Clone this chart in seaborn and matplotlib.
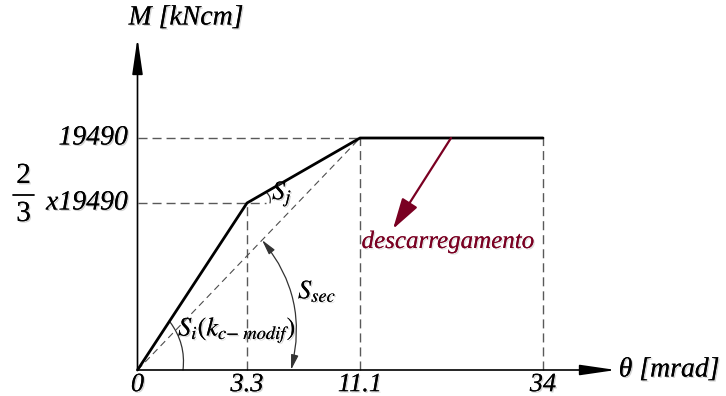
import numpy as np
import matplotlib
matplotlib.use("Agg")
import matplotlib.pyplot as plt
import matplotlib.patheffects as pe
from matplotlib.patches import FancyArrowPatch
import seaborn as sns
import pandas as pd

# --- moment-rotation data -------------------------------------------------
theta_ticks = [0, 3.3, 11.1, 34]            # rotation [mrad]
theta_labels = ["0", "3.3", "11.1", "34"]
m_max = 19490                                # resistant moment [kNcm]
m_el = 2 / 3 * m_max                         # end of elastic branch
curve_theta = [0, 3.3, 11.1, 34]
curve_m = [0, m_el, m_max, m_max]

# schematic (non-proportional) axis spacing, in pixels
X_ANCHOR_DATA = [0, 3.3, 11.1, 34]
X_ANCHOR_PX = [137.5, 247, 360, 543]
Y_ANCHOR_DATA = [0, m_el, m_max]
Y_ANCHOR_PX = [26, 193, 258]          # measured from the bottom edge

W, H = 726, 396
SERIF = ["Liberation Serif", "DejaVu Serif"]


def piecewise(xp, fp):
    xp = np.asarray(xp, float)
    fp = np.asarray(fp, float)

    def f(v):
        v = np.asarray(v, float)
        out = np.interp(v, xp, fp)
        s0 = (fp[1] - fp[0]) / (xp[1] - xp[0])
        s1 = (fp[-1] - fp[-2]) / (xp[-1] - xp[-2])
        out = np.where(v < xp[0], fp[0] + (v - xp[0]) * s0, out)
        out = np.where(v > xp[-1], fp[-1] + (v - xp[-1]) * s1, out)
        return out
    return f


x_fwd = piecewise(X_ANCHOR_DATA, X_ANCHOR_PX)
x_inv = piecewise(X_ANCHOR_PX, X_ANCHOR_DATA)
y_fwd = piecewise(Y_ANCHOR_DATA, Y_ANCHOR_PX)
y_inv = piecewise(Y_ANCHOR_PX, Y_ANCHOR_DATA)


def P(px, py):
    """pixel position (from top-left) -> data coordinates"""
    return float(x_inv(px)), float(y_inv(H - py))


sns.set_theme(style="white")
plt.rcParams["font.family"] = SERIF

fig = plt.figure(figsize=(W / 100, H / 100), dpi=100)
ax = fig.add_axes([0, 0, 1, 1])
ax.set_xscale("function", functions=(x_fwd, x_inv))
ax.set_yscale("function", functions=(y_fwd, y_inv))
ax.set_xlim(float(x_inv(0)), float(x_inv(W)))
ax.set_ylim(float(y_inv(0)), float(y_inv(H)))
ax.axis("off")

shadow = [pe.withSimplePatchShadow(offset=(1, -1), shadow_rgbFace="0.5", alpha=0.35),
          pe.Normal()]
txt = dict(family=SERIF, style="italic", color="black", path_effects=shadow)
mtxt = dict(color="black", math_fontfamily="stix", path_effects=shadow)

# --- dashed guide lines ----------------------------------------------------
guide = dict(color="0.35", lw=1.0, dashes=(6.5, 3.6), zorder=1)
ax.plot([0, theta_ticks[2]], [m_max, m_max], **guide)
ax.plot([0, P(266, 0)[0]], [m_el, m_el], **guide)
for t, m in [(3.3, m_el), (11.1, m_max), (34, m_max)]:
    ax.plot([t, t], [0, m], **guide)

# secant stiffness
sec = pd.DataFrame({"theta": [0, 11.1], "M": [0, m_max]})
sns.lineplot(data=sec, x="theta", y="M", ax=ax, color="0.3", lw=0.8,
             estimator=None, sort=False, zorder=2)
ax.lines[-1].set_dashes((6, 4))

# --- main curve -------------------------------------------------------------
curve = pd.DataFrame({"theta": curve_theta, "M": curve_m})
sns.lineplot(data=curve, x="theta", y="M", ax=ax, color="black", lw=2.0,
             estimator=None, sort=False, zorder=3)

# --- axes with arrows --------------------------------------------------------
ax_arrow = dict(arrowstyle="-|>,head_length=2.2,head_width=0.32", color="black",
                lw=1.2, mutation_scale=10, shrinkA=0, shrinkB=0, zorder=4)
ax.add_patch(FancyArrowPatch((0, 0), P(137.5, 38), **ax_arrow))
ax.add_patch(FancyArrowPatch((0, 0), P(616, 370), **ax_arrow))

# tick labels
for t, lab in zip(theta_ticks, theta_labels):
    ax.annotate(lab, xy=(t, 0), xytext=(0, -3), textcoords="offset points",
                ha="center", va="top", fontsize=19, **txt)

ax.annotate("19490", xy=(0, m_max), xytext=(-7, 0), textcoords="offset points",
            ha="right", va="center", fontsize=20, **txt)
ax.annotate("x19490", xy=(0, m_el), xytext=(-7, 0), textcoords="offset points",
            ha="right", va="center", fontsize=20, **txt)
fig.text(23.5 / W, 1 - 176 / H, "2", ha="center", va="center", fontsize=21,
         family=SERIF, color="black", path_effects=shadow)
fig.text(23.5 / W, 1 - 214 / H, "3", ha="center", va="center", fontsize=21,
         family=SERIF, color="black", path_effects=shadow)
fig.add_artist(plt.Line2D([13 / W, 34 / W], [1 - 194.5 / H] * 2, color="black", lw=1.3))

# axis titles
fig.text(186 / W, 1 - 18 / H, "M [kNcm]", ha="center", va="center", fontsize=20, **txt)
fig.text(669 / W, 1 - 370 / H, "θ [mrad]", ha="center", va="center", fontsize=20, **txt)

# --- stiffness arcs and labels ------------------------------------------------
thin = dict(color="0.2", lw=0.9, mutation_scale=10, shrinkA=0, shrinkB=0, zorder=2)
ax.add_patch(FancyArrowPatch(P(170, 322), P(183, 370),
                             connectionstyle="arc3,rad=-0.2", arrowstyle="-", **thin))
ax.add_patch(FancyArrowPatch(P(267, 193), P(270, 203),
                             connectionstyle="arc3,rad=-0.3", arrowstyle="-", **thin))
ax.add_patch(FancyArrowPatch(P(262, 240), P(291, 370),
                             connectionstyle="arc3,rad=-0.25",
                             arrowstyle="<|-|>,head_length=0.9,head_width=0.22", **thin))

fig.text(272 / W, 1 - 194 / H, r"$S_j$", ha="left", va="center", fontsize=19, **mtxt)
fig.text(298 / W, 1 - 291 / H, r"$S_{sec}$", ha="left", va="center", fontsize=19, **mtxt)
fig.text(178 / W, 1 - 330 / H, r"$S_i(k_{c{-}\ modif})$", ha="left", va="center",
         fontsize=19, **mtxt)

# --- unloading arrow ------------------------------------------------------------
red = "#7a0022"
ax.add_patch(FancyArrowPatch(P(451, 138), P(393, 229),
                             arrowstyle="-|>,head_length=1.9,head_width=0.55",
                             color=red, lw=1.6, mutation_scale=10,
                             shrinkA=0, shrinkB=0, zorder=4))
fig.text(448 / W, 1 - 242 / H, "descarregamento", ha="center", va="center",
         fontsize=18, family=SERIF, style="italic", color=red,
         path_effects=[pe.withSimplePatchShadow(offset=(1, -1), shadow_rgbFace="0.6",
                                                alpha=0.3), pe.Normal()])

fig.savefig("out.png", dpi=100)
